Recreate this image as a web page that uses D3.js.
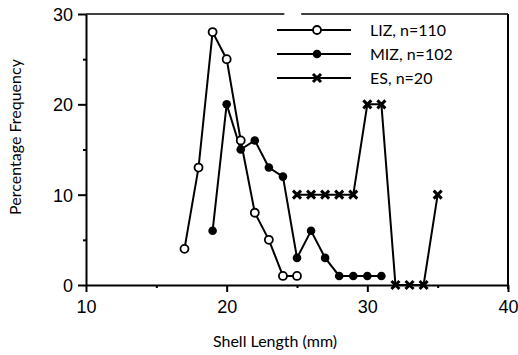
<!DOCTYPE html>
<html>
<head>
<meta charset="utf-8">
<script src="https://cdn.jsdelivr.net/npm/d3@7"></script>
<style>
  body { margin: 0; background: #fff; }
  svg { display: block; font-family: "Lato", "Open Sans", sans-serif; }
</style>
</head>
<body>
<svg id="chart" width="518" height="355"></svg>
<script>
// Shell length (mm) vs percentage frequency
const lizLength = [17, 18, 19, 20, 21, 22, 23, 24, 25];
const lizFreq   = [4, 13, 28, 25, 16, 8, 5, 1, 1];

const mizLength = [19, 20, 21, 22, 23, 24, 25, 26, 27, 28, 29, 30, 31];
const mizFreq   = [6, 20, 15, 16, 13, 12, 3, 6, 3, 1, 1, 1, 1];

const esLength  = [25, 26, 27, 28, 29, 30, 31, 32, 33, 34, 35];
const esFreq    = [10, 10, 10, 10, 10, 20, 20, 0, 0, 0, 10];

const seriesNames = ['LIZ, n=110', 'MIZ, n=102', 'ES, n=20'];
const xTicks = [10, 20, 30, 40];
const yTicks = [0, 10, 20, 30];

const svg = d3.select('#chart');
const margin = { left: 86, right: 10, top: 14, bottom: 70 };
const width = 518 - margin.left - margin.right;
const height = 355 - margin.top - margin.bottom;

const x = d3.scaleLinear().domain([10, 40]).range([0, width]);
const y = d3.scaleLinear().domain([0, 30]).range([height, 0]);

const g = svg.append('g').attr('transform', `translate(${margin.left},${margin.top})`);

// frame (top and right); the top edge has a small break in the original
g.append('line').attr('x1', 0).attr('x2', x(24.1)).attr('y1', 0).attr('y2', 0)
  .attr('stroke', '#000').attr('stroke-width', 1.5);
g.append('line').attr('x1', x(25.3)).attr('x2', width).attr('y1', 0).attr('y2', 0)
  .attr('stroke', '#000').attr('stroke-width', 1.5);
g.append('line').attr('x1', width).attr('x2', width).attr('y1', 0).attr('y2', height + 4)
  .attr('stroke', '#000').attr('stroke-width', 2);

// axes
const xAxis = g.append('g').attr('transform', `translate(0,${height})`)
  .call(d3.axisBottom(x).tickValues(d3.range(10, 41, 5))
    .tickSize(0).tickFormat(''));
xAxis.select('.domain').attr('stroke-width', 2);
xAxis.selectAll('.tick line')
  .attr('y2', d => xTicks.includes(d) ? 7 : 3)
  .attr('stroke-width', 2);
xAxis.selectAll('.tick').filter(d => xTicks.includes(d)).append('text')
  .attr('y', 28).attr('fill', '#000').attr('text-anchor', 'middle')
  .attr('font-size', 18).text(d => d);

const yAxis = g.append('g')
  .call(d3.axisLeft(y).tickValues(d3.range(0, 31, 5))
    .tickSize(0).tickFormat(''));
yAxis.select('.domain').attr('stroke-width', 2);
yAxis.selectAll('.tick line')
  .attr('x2', d => yTicks.includes(d) ? -8 : -3)
  .attr('stroke-width', 2);
yAxis.selectAll('.tick').filter(d => yTicks.includes(d)).append('text')
  .attr('x', -13).attr('dy', '0.36em').attr('fill', '#000')
  .attr('text-anchor', 'end').attr('font-size', 18).text(d => d);

// axis titles
svg.append('text').attr('x', 275).attr('y', 347)
  .attr('text-anchor', 'middle').attr('font-size', 16).text('Shell Length (mm)');
svg.append('text')
  .attr('transform', 'translate(21,137) rotate(-90)')
  .attr('text-anchor', 'middle').attr('font-size', 16).text('Percentage Frequency');

// series
const line = d3.line().x(d => x(d[0])).y(d => y(d[1]));
const series = [
  { pts: d3.zip(lizLength, lizFreq), marker: 'open' },
  { pts: d3.zip(mizLength, mizFreq), marker: 'filled' },
  { pts: d3.zip(esLength, esFreq), marker: 'cross' }
];

function drawMarker(sel, type) {
  if (type === 'open') {
    sel.append('circle').attr('r', 4).attr('fill', '#fff')
      .attr('stroke', '#000').attr('stroke-width', 1.8);
  } else if (type === 'filled') {
    sel.append('circle').attr('r', 4.3).attr('fill', '#000');
  } else {
    sel.append('path').attr('d', 'M-4,-4L4,4M-4,4L4,-4')
      .attr('stroke', '#000').attr('stroke-width', 3);
  }
}

series.forEach(s => {
  g.append('path').datum(s.pts).attr('d', line)
    .attr('fill', 'none').attr('stroke', '#000').attr('stroke-width', 2);
});
series.forEach(s => {
  g.selectAll(null).data(s.pts).enter().append('g')
    .attr('transform', d => `translate(${x(d[0])},${y(d[1])})`)
    .each(function () { drawMarker(d3.select(this), s.marker); });
});

// legend
const legend = svg.append('g').attr('transform', 'translate(277,30)');
seriesNames.forEach((name, i) => {
  const row = legend.append('g').attr('transform', `translate(0,${i * 24})`);
  row.append('line').attr('x1', 0).attr('x2', 74).attr('stroke', '#000').attr('stroke-width', 2);
  drawMarker(row.append('g').attr('transform', 'translate(40,0)'), series[i].marker);
  row.append('text').attr('x', 93).attr('dy', '0.35em').attr('font-size', 16).text(name);
});
</script>
</body>
</html>
